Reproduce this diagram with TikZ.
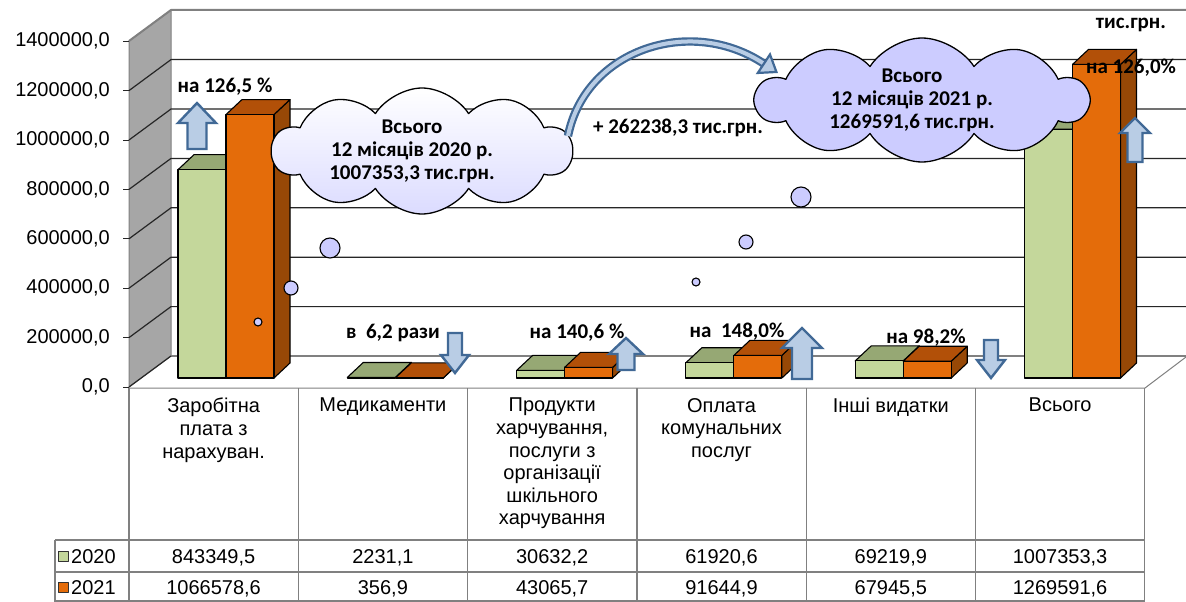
\documentclass[tikz,border=0pt]{standalone}
\usepackage{fontspec}
\setmainfont{Liberation Sans}
\newfontfamily\labelfont{Carlito}
\usetikzlibrary{shapes.symbols,arrows.meta}

\definecolor{greenfront}{RGB}{196,215,155}
\definecolor{greentop}{RGB}{150,168,116}
\definecolor{greenside}{RGB}{120,140,90}
\definecolor{orangefront}{RGB}{228,108,10}
\definecolor{orangetop}{RGB}{178,80,8}
\definecolor{orangeside}{RGB}{151,72,6}
\definecolor{wallgray}{RGB}{166,166,166}
\definecolor{tablegray}{RGB}{128,128,128}
\definecolor{lavender}{RGB}{204,204,255}
\definecolor{arrowedge}{RGB}{65,105,150}
\definecolor{arrowfill}{RGB}{185,205,229}

% 3d bar: left x, height, front, top, side colour
\newcommand\barbox[5]{%
  \filldraw[barline,fill=#5] ({#1+48},{378-#2}) -- ++(16,-15) -- ({#1+64},363) -- ({#1+48},378) -- cycle;
  \filldraw[barline,fill=#4] (#1,{378-#2}) -- ++(16,-15) -- ++(48,0) -- ++(-16,15) -- cycle;
  \filldraw[barline,fill=#3] (#1,378) rectangle ({#1+48},{378-#2});}
% block arrow: centre x, tip y, tail y, head length (signed), half head width
\newcommand\blockarrow[5]{%
  \draw[blockarr] (#1,#2) -- ({#1+#5},{#2+#4}) -- ({#1+#5/2},{#2+#4}) -- ({#1+#5/2},#3)
    -- ({#1-#5/2},#3) -- ({#1-#5/2},{#2+#4}) -- ({#1-#5},{#2+#4}) -- cycle;}

\begin{document}
\begin{tikzpicture}[x=1pt,y=-1pt,line join=round,
    grid/.style={black!85,line width=1.2pt},
    tableline/.style={draw=tablegray,line width=1.2pt},
    barline/.style={draw=black,line width=1.1pt},
    blockarr/.style={draw=arrowedge,fill=arrowfill,line width=2.4pt,line join=miter},
    note/.style={font=\labelfont\bfseries\fontsize{21}{23}\selectfont,inner sep=0pt},
    cell/.style={font=\fontsize{20}{22.6}\selectfont,inner sep=0pt,align=center},
    bubble/.style={draw=black,fill=lavender,line width=1.1pt},
    sumcloud/.style={cloud,draw=black,line width=1.3pt,cloud puffs=10,cloud puff arc=115,aspect=2.4,inner sep=0pt},
    bigarrow/.style={draw=arrowedge,double=arrowfill,double distance=4pt,line width=2.2pt,
        -{Triangle[length=18pt,width=26pt,fill=arrowfill]}}]
    \useasboundingbox (0,0) rectangle (1186,602);
    \fill[white] (0,0) rectangle (1186,602);
    % walls and floor
    \filldraw[fill=wallgray,draw=tablegray,line width=1pt] (129,41) -- (171,10) -- (171,356) -- (129,387) -- cycle;
    \draw[tablegray,line width=1pt] (129,388) -- (1145,388) -- (1186,357);
    \draw[tablegray,line width=1.5pt] (171,356) -- (1186,356);
    \foreach \k in {1,...,6}
        \draw[grid] (129,{387-49.4*\k}) -- (171,{356-49.4*\k}) -- (1186,{356-49.4*\k});
    \draw[tablegray,line width=2pt] (129,41) -- (171,10) -- (1186,10);
    \draw[black!85,line width=1.2pt] (129,387) -- (171,356);
    \foreach \v [count=\k from 0] in {0{,}0,200000{,}0,400000{,}0,600000{,}0,800000{,}0,1000000{,}0,1200000{,}0,1400000{,}0}
    {
        \draw[black!85,line width=1pt] (123,{387-49.4*\k}) -- (129,{387-49.4*\k});
        \node[cell,anchor=east] (tick\k) at (110,{387-49.4*\k}) {\v};
    }
    % bars
    \foreach \i/\a/\b in {0/843.3495/1066.5786,1/2.2311/0.3569,2/30.6322/43.0657,
        3/61.9206/91.6449,4/69.2199/67.9455,5/1007.3533/1269.5916}
    {
        \pgfmathsetmacro\xg{178+169.3*\i}
        \pgfmathsetmacro\xo{226+169.3*\i}
        \barbox{\xg}{\a*0.247}{greenfront}{greentop}{greenside}
        \barbox{\xo}{\b*0.247}{orangefront}{orangetop}{orangeside}
    }
    \foreach \x/\y/\r in {291/288/7,258/322/4,330/248/10,696/282/4,746/242/7,801/197/10}
        \filldraw[bubble] (\x,\y) circle[radius=\r pt];
    % table
    \foreach \k in {0,...,6}
        \draw[tableline] ({129+169.3*\k},388) -- ({129+169.3*\k},602);
    \foreach \y in {540,572,601}
        \draw[tableline] (55,\y) -- (1145,\y);
    \draw[tableline] (55,540) -- (55,602);
    \foreach \txt [count=\k from 0] in {{Заробітна\\плата з\\нарахуван.},Медикаменти,
        {Продукти\\харчування,\\послуги з\\організації\\шкільного\\харчування},
        {Оплата\\комунальних\\послуг},Інші видатки,Всього}
        \node[cell,anchor=north] (head\k) at ({213.6+169.3*\k},398) {\txt};
    \foreach \va/\vb [count=\k from 0] in {843349{,}5/1066578{,}6,2231{,}1/356{,}9,30632{,}2/43065{,}7,
        61920{,}6/91644{,}9,69219{,}9/67945{,}5,1007353{,}3/1269591{,}6}
    {
        \node[cell,anchor=base] (row20\k) at ({213.6+169.3*\k},563) {\va};
        \node[cell,anchor=base] (row21\k) at ({213.6+169.3*\k},594) {\vb};
    }
    \filldraw[fill=greenfront,draw=black!80,line width=1pt] (58,551) rectangle (68,561);
    \filldraw[fill=orangefront,draw=black!80,line width=1pt] (58,582) rectangle (68,592);
    \node[cell,anchor=base west] (year20) at (71,563) {2020};
    \node[cell,anchor=base west] (year21) at (71,594) {2021};
    % clouds
    \node[sumcloud,top color=white,bottom color=lavender!70,minimum width=300pt,minimum height=126pt] (cloud20) at (422,151) {};
    \node[sumcloud,fill=lavender,minimum width=332pt,minimum height=124pt] (cloud21) at (922,100) {};
    \node[note,align=center] (sum20) at ([xshift=-10pt]cloud20.center) {Всього\\12 місяців 2020 р.\\1007353,3 тис.грн.};
    \node[note,align=center] (sum21) at ([xshift=-10pt]cloud21.center) {Всього\\12 місяців 2021 р.\\1269591,6 тис.грн.};
    \coordinate (from) at (568,136);
    \coordinate (to) at (778,73);
    \draw[bigarrow] (from) .. controls (585,50) and (690,15) .. (to);
    % growth arrows
    \blockarrow{197}{103}{149}{20}{19}
    \blockarrow{455}{373}{333}{-18}{14}
    \blockarrow{626}{338}{370}{16}{17}
    \blockarrow{802}{328}{379}{20}{20}
    \blockarrow{991}{378}{340}{-18}{14}
    \blockarrow{1135}{118}{162}{15}{15}
    % labels
    \node[note] (up1) at (225,87) {на 126,5 \%};
    \node[note] (down2) at (393,333) {в\ \ 6,2 рази};
    \node[note] (up3) at (577,333) {на 140,6 \%};
    \node[note] (up4) at (737,332) {на\ \ 148,0\%};
    \node[note] (down5) at (926,338) {на 98,2\%};
    \node[note] (diff) at (678,128) {+ 262238,3 тис.грн.};
    \node[note] (unit) at (1131,25) {тис.грн.};
    \node[note] (up6) at (1131,68) {на 126,0\%};
\end{tikzpicture}
\end{document}
